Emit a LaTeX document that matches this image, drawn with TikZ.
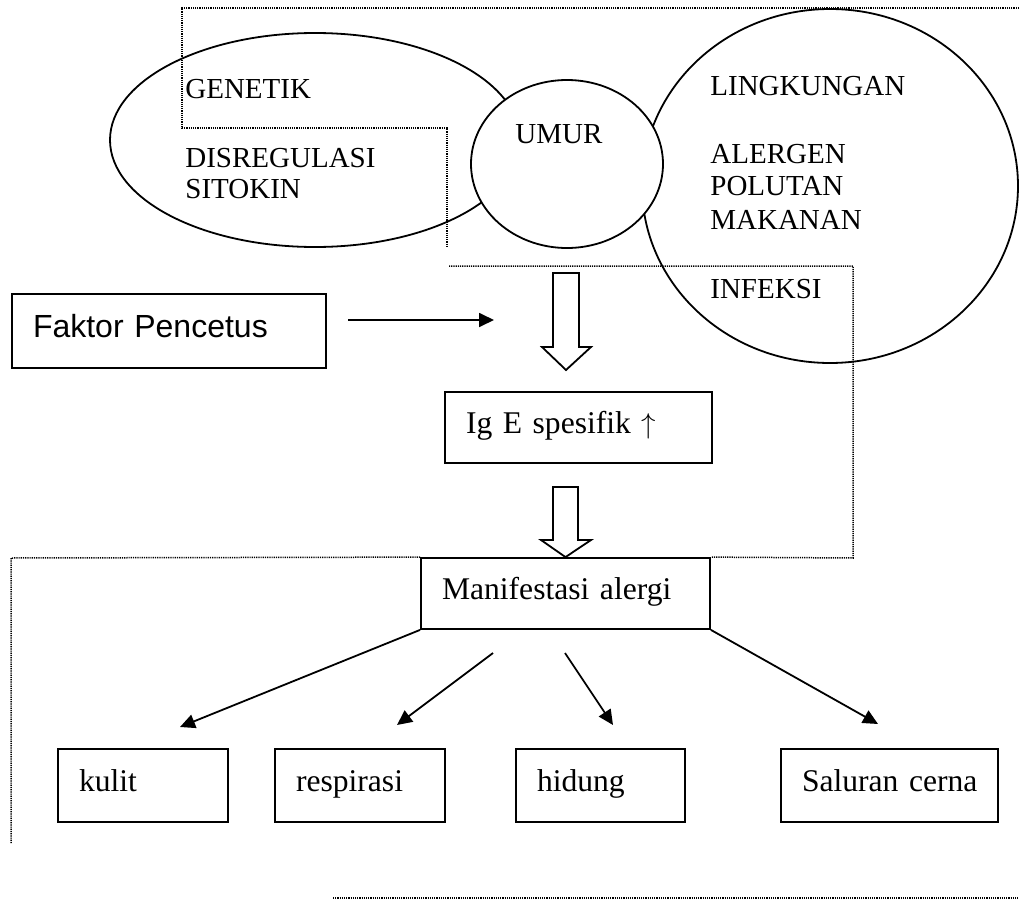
\documentclass[tikz,border=0pt]{standalone}
\usepackage{fontspec}
\setmainfont{Liberation Serif}
\newfontfamily\arialfont{Liberation Sans}
\usetikzlibrary{arrows.meta, positioning, calc, shapes.geometric}

\tikzset{
  frame/.style={line width=0.75pt, dash pattern=on 0.6pt off 0.5pt},
  bubble/.style={draw, ellipse, line width=0.9pt, inner sep=0pt},
  capslbl/.style={anchor=base west, inner sep=0pt, font=\fontsize{14.5}{16}\selectfont},
  box/.style={draw, line width=0.9pt, align=left, inner xsep=10.5pt, inner ysep=0pt,
    text height=11pt, text depth=4.7pt, font=\fontsize{15.8}{18}\selectfont},
  link/.style={-{Triangle[length=7.5pt,width=7pt]}, line width=0.9pt},
  fat/.style={draw, line width=0.9pt, fill=white}
}

\begin{document}
\begin{tikzpicture}[x=0.5pt, y=-0.5pt]
  \useasboundingbox (0,0) rectangle (1019,900);

  % Ellipses
  \node[bubble, minimum width=205pt, minimum height=107pt] (genetik) at (315,140) {};
  \node[bubble, minimum width=188pt, minimum height=177pt] (lingkungan) at (830,186) {};
  \node[bubble, fill=white, minimum width=96pt, minimum height=84pt] (umur) at (567,164) {};

  % Ellipse labels
  \node[capslbl] (tgenetik) at (185,98) {GENETIK};
  \node[capslbl] (tdisreg) at (185,167) {DISREGULASI};
  \node[capslbl] (tsitokin) at (185,198) {SITOKIN};
  \node[capslbl] (tumur) at (515,143) {UMUR};
  \node[capslbl] (tling) at (710,95) {LINGKUNGAN};
  \node[capslbl] (talergen) at (710,163) {ALERGEN};
  \node[capslbl] (tpolutan) at (710,195) {POLUTAN};
  \node[capslbl] (tmakanan) at (710,229) {MAKANAN};
  \node[capslbl] (tinfeksi) at (710,298) {INFEKSI};

  % Boxes
  \node[box, font=\arialfont\fontsize{16}{18}\selectfont, text width=136pt, minimum height=37pt] (faktor) at (169,331) {\mbox{Faktor Pencetus}};
  \node[box, text width=112.5pt, minimum height=35.5pt] (ige) at (578.5,427.5) {\mbox{Ig E spesifik $\uparrow$}};
  \node[box, text width=123.5pt, minimum height=35.5pt] (manif) at (565.5,593.5) {\mbox{Manifestasi alergi}};
  \node[box, text width=64pt, minimum height=36.5pt] (kulit) at (143,785.5) {kulit};
  \node[box, text width=64pt, minimum height=36.5pt] (respirasi) at (360,785.5) {respirasi};
  \node[box, text width=63.5pt, minimum height=36.5pt] (hidung) at (600.5,785.5) {hidung};
  \node[box, text width=87.5pt, minimum height=36.5pt] (saluran) at (889.5,785.5) {\mbox{Saluran cerna}};

  % Hollow arrows
  \draw[fat] (553,273) -- (579,273) -- (579,347) -- (591,347) -- (566,370) -- (542,347) -- (553,347) -- cycle;
  \draw[fat] (553,487) -- (578,487) -- (578,540) -- (591,540) -- (manif.north) -- (541,540) -- (553,540) -- cycle;

  % Arrows
  \coordinate (faktorEnd) at (348,320);
  \coordinate (faktorTip) at (494,320);
  \coordinate (kulitTip) at (180,727);
  \coordinate (resStart) at (493,653);
  \coordinate (resTip) at (397,725);
  \coordinate (hidStart) at (565,653);
  \coordinate (hidTip) at (613,725);
  \coordinate (salTip) at (878,724);
  \draw[link] (faktorEnd) -- (faktorTip);
  \draw[link] (manif.south west) -- (kulitTip);
  \draw[link] (resStart) -- (resTip);
  \draw[link] (hidStart) -- (hidTip);
  \draw[link] (manif.south east) -- (salTip);

  % Dotted frame
  \draw[frame] (1019,8) -- (182,8) -- (182,128) -- (447,128) -- (447,247);
  \draw[frame] (449,266) -- (853,266) -- (853,558) -- (manif.north east);
  \draw[frame] (manif.north west) -- (11,558) -- (11,843);
  \draw[frame] (333,898) -- (1019,898);
\end{tikzpicture}
\end{document}
